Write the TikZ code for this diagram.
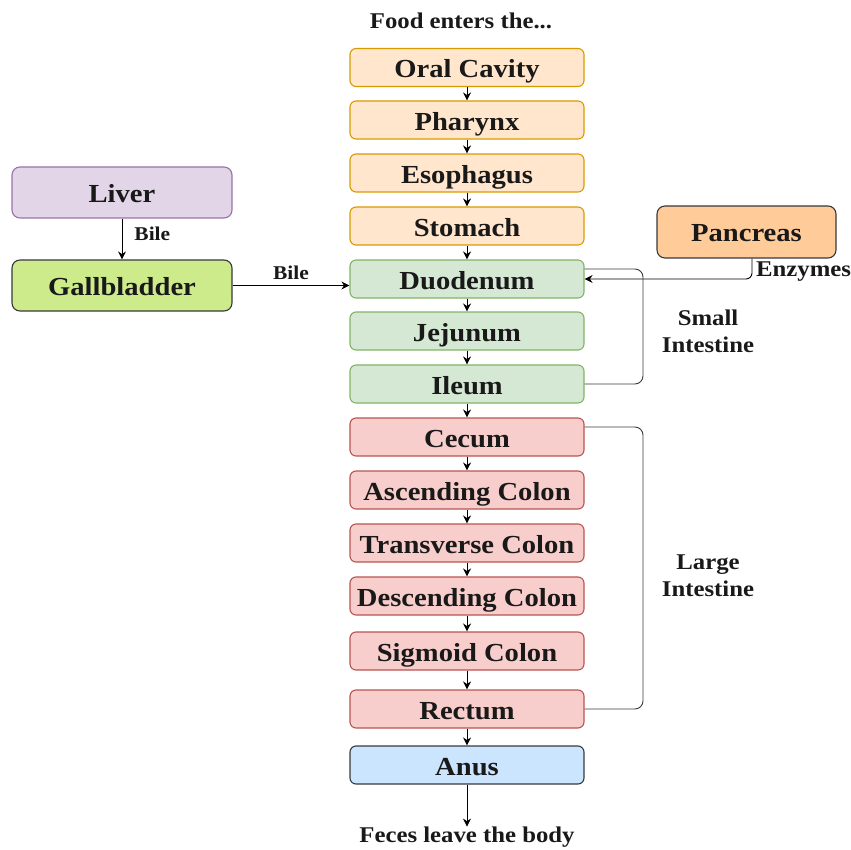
\documentclass[tikz,border=0pt]{standalone}
\usepackage{fontspec}
\setmainfont{Liberation Serif}
\usepackage{graphicx}
\usetikzlibrary{arrows.meta,calc}

\definecolor{orgfill}{HTML}{FFE6CC}\definecolor{orgline}{HTML}{D79B00}
\definecolor{grnfill}{HTML}{D5E8D4}\definecolor{grnline}{HTML}{82B366}
\definecolor{redfill}{HTML}{F8CECC}\definecolor{redline}{HTML}{B85450}
\definecolor{bluefill}{HTML}{CCE5FF}\definecolor{darkline}{HTML}{36393D}
\definecolor{purfill}{HTML}{E1D5E7}\definecolor{purline}{HTML}{9673A6}
\definecolor{limefill}{HTML}{CDEB8B}\definecolor{pancfill}{HTML}{FFCC99}

% wide Times-like lettering used throughout
\newcommand{\organtxt}[1]{\scalebox{1.1}[1]{\fontsize{26}{28}\selectfont\bfseries #1}}
\newcommand{\notetxt}[1]{\scalebox{1.1}[1]{\fontsize{22.5}{27}\selectfont\bfseries #1}}
\newcommand{\smalltxt}[1]{\scalebox{1.1}[1]{\fontsize{19.5}{22}\selectfont\bfseries #1}}

\tikzset{
  organ/.style={draw, rounded corners=6pt, line width=1.1pt, minimum width=234pt,
    minimum height=38pt, inner sep=0pt, text height=20.5pt, text depth=0pt,
    text=black!90},
  side/.style={draw, rounded corners=8pt, line width=1.1pt, minimum width=220pt,
    minimum height=51pt, inner sep=0pt, text height=20pt, text depth=0pt,
    text=black!90},
  oral/.style={organ, fill=orgfill, draw=orgline},
  small/.style={organ, fill=grnfill, draw=grnline},
  large/.style={organ, fill=redfill, draw=redline},
  exit/.style={organ, fill=bluefill, draw=darkline},
  step arrow/.style={-{Stealth[length=8pt,width=8pt]}, line width=1pt},
  flow/.style={-{Stealth[length=8pt,width=8pt]}, line width=0.9pt},
  bracket/.style={line width=0.9pt, draw=darkline, rounded corners=8pt},
  label/.style={inner sep=0pt, text=black!90},
  twoline/.style={label, align=center, font=\fontsize{22.5}{27}\selectfont}
}

\begin{document}
\begin{tikzpicture}[x=1pt,y=-1pt]
\useasboundingbox (0,0) rectangle (851,850);

% main tract
\node[oral]  (oc)  at (467,67.5) {\organtxt{Oral Cavity}};
\node[oral]  (ph)  at (467,120)  {\organtxt{Pharynx}};
\node[oral]  (es)  at (467,173)  {\organtxt{Esophagus}};
\node[oral]  (st)  at (467,226)  {\organtxt{Stomach}};
\node[small] (du)  at (467,279)  {\organtxt{Duodenum}};
\node[small] (je)  at (467,331)  {\organtxt{Jejunum}};
\node[small] (il)  at (467,384)  {\organtxt{Ileum}};
\node[large] (ce)  at (467,437)  {\organtxt{Cecum}};
\node[large] (ac)  at (467,490)  {\organtxt{Ascending Colon}};
\node[large] (tc)  at (467,543)  {\organtxt{Transverse Colon}};
\node[large] (dc)  at (467,596)  {\organtxt{Descending Colon}};
\node[large] (sc)  at (467,651)  {\organtxt{Sigmoid Colon}};
\node[large] (re)  at (467,709)  {\organtxt{Rectum}};
\node[exit]  (an)  at (467,765)  {\organtxt{Anus}};

% accessory organs
\node[side, fill=purfill, draw=purline] (li) at (122,192.5) {\organtxt{Liver}};
\node[side, fill=limefill, draw=darkline] (gb) at (122,285.5) {\organtxt{Gallbladder}};
\node[side, fill=pancfill, draw=darkline, minimum width=179pt, minimum height=52pt]
  (pa) at (746.5,232) {\organtxt{Pancreas}};

% entry and exit texts
\node[label] (in)  at (461,21)  {\notetxt{Food enters the...}};
\node[label] (out) at (467,837) {\notetxt{Feces leave the body}};

% step arrows along the tract
\foreach \a/\b in {oc/ph, ph/es, es/st, st/du, du/je, je/il, il/ce, ce/ac,
                   ac/tc, tc/dc, dc/sc, sc/re, re/an}
  \draw[step arrow] (\a.south) -- (\b.north);
\draw[flow] (an.south) -- (out.north);

% bile and enzymes
\draw[flow] (li.south) -- node[label, right=12pt, pos=0.38] (bile1) {\smalltxt{Bile}} (gb.north);
\draw[flow] (gb.east) -- node[label, above=5pt, pos=0.5] (bile2) {\smalltxt{Bile}} (gb.east -| du.west);
\coordinate (pdrop) at ($(pa.south)+(5.5,0)$);
\draw[flow, rounded corners=6pt] (pdrop) |- (du.east);
\node[label, anchor=west] (enz) at (756,272) {\notetxt{Enzymes}};

% intestine brackets
\coordinate (sib) at (643,0);
\draw[bracket] ($(du.east)+(0,-10)$) -| (sib |- il.east) -- (il.east);
\node[twoline] (silab) at (708,331) {\notetxt{Small}\\\notetxt{Intestine}};
\draw[bracket] ($(ce.east)+(0,-10)$) -| (sib |- re.east) -- (re.east);
\node[twoline] (lilab) at (708,576) {\notetxt{Large}\\\notetxt{Intestine}};
\end{tikzpicture}
\end{document}
